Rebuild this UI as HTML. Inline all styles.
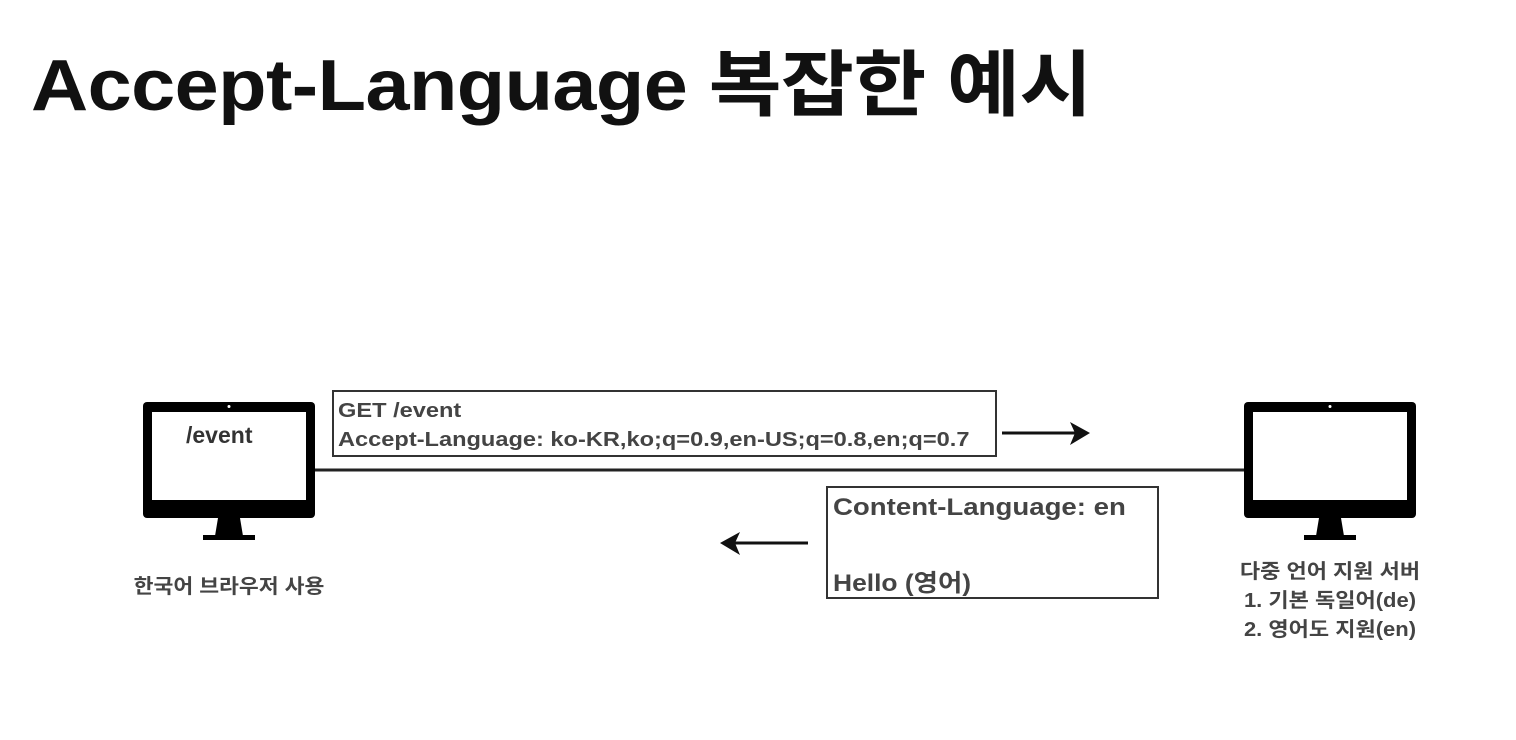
<!DOCTYPE html>
<html><head><meta charset="utf-8"><style>
body{margin:0;width:1516px;height:740px;background:#fff;position:relative;overflow:hidden;font-family:"Liberation Sans","Noto Sans CJK KR",sans-serif;}
.a{position:absolute;white-space:nowrap;}
.t{font-weight:bold;color:#111;}
.g{font-weight:bold;color:#444;}
.box{position:absolute;border:2px solid #333;box-sizing:border-box;background:#fff;}
</style></head><body>
<div class="a t" style="left:31px;top:26px;font-size:72px;letter-spacing:-0.5px;transform:scaleX(1.1);transform-origin:left top;">Accept-Language 복잡한 예시</div>

<svg class="a" style="left:0;top:0" width="1516" height="740">
 <rect x="143" y="402" width="172" height="116" rx="4" fill="#000"/>
 <rect x="152" y="412" width="154" height="88" fill="#fff"/>
 <circle cx="229" cy="406.5" r="1.5" fill="#fff"/>
 <polygon points="218,518 240,518 243,536 215,536" fill="#000"/>
 <rect x="203" y="535" width="52" height="5" fill="#000"/>
 <rect x="1244" y="402" width="172" height="116" rx="4" fill="#000"/>
 <rect x="1253" y="412" width="154" height="88" fill="#fff"/>
 <circle cx="1330" cy="406.5" r="1.5" fill="#fff"/>
 <polygon points="1319,518 1341,518 1344,536 1316,536" fill="#000"/>
 <rect x="1304" y="535" width="52" height="5" fill="#000"/>
 <line x1="315" y1="470" x2="1244" y2="470" stroke="#222" stroke-width="3"/>
 <line x1="1002" y1="433" x2="1076" y2="433" stroke="#111" stroke-width="3"/>
 <polygon points="1070,422 1090,433 1070,445 1075,433" fill="#111"/>
 <line x1="808" y1="543" x2="734" y2="543" stroke="#111" stroke-width="3"/>
 <polygon points="740,532 720,543 740,555 735,543" fill="#111"/>
</svg>

<div class="a g" style="left:186px;top:422px;font-size:23px;color:#333;">/event</div>

<div class="box" style="left:332px;top:390px;width:665px;height:67px;"></div>
<div class="a g" style="left:338px;top:397px;font-size:20px;line-height:29px;transform:scaleX(1.18);transform-origin:left top;">GET /event<br>Accept-Language: ko-KR,ko;q=0.9,en-US;q=0.8,en;q=0.7</div>

<div class="box" style="left:826px;top:486px;width:333px;height:113px;"></div>
<div class="a g" style="left:833px;top:494px;font-size:24px;transform:scaleX(1.15);transform-origin:left top;">Content-Language: en</div>
<div class="a g" style="left:833px;top:563px;font-size:24px;transform:scaleX(1.1);transform-origin:left top;">Hello (영어)</div>

<div class="a g" style="left:129px;top:570px;width:200px;text-align:center;font-size:20px;transform:scaleX(1.08);">한국어 브라우저 사용</div>
<div class="a g" style="left:1230px;top:558px;width:200px;text-align:center;font-size:20px;line-height:29px;transform:scaleX(1.1);">다중 언어 지원 서버<br>1. 기본 독일어(de)<br>2. 영어도 지원(en)</div>
</body></html>
